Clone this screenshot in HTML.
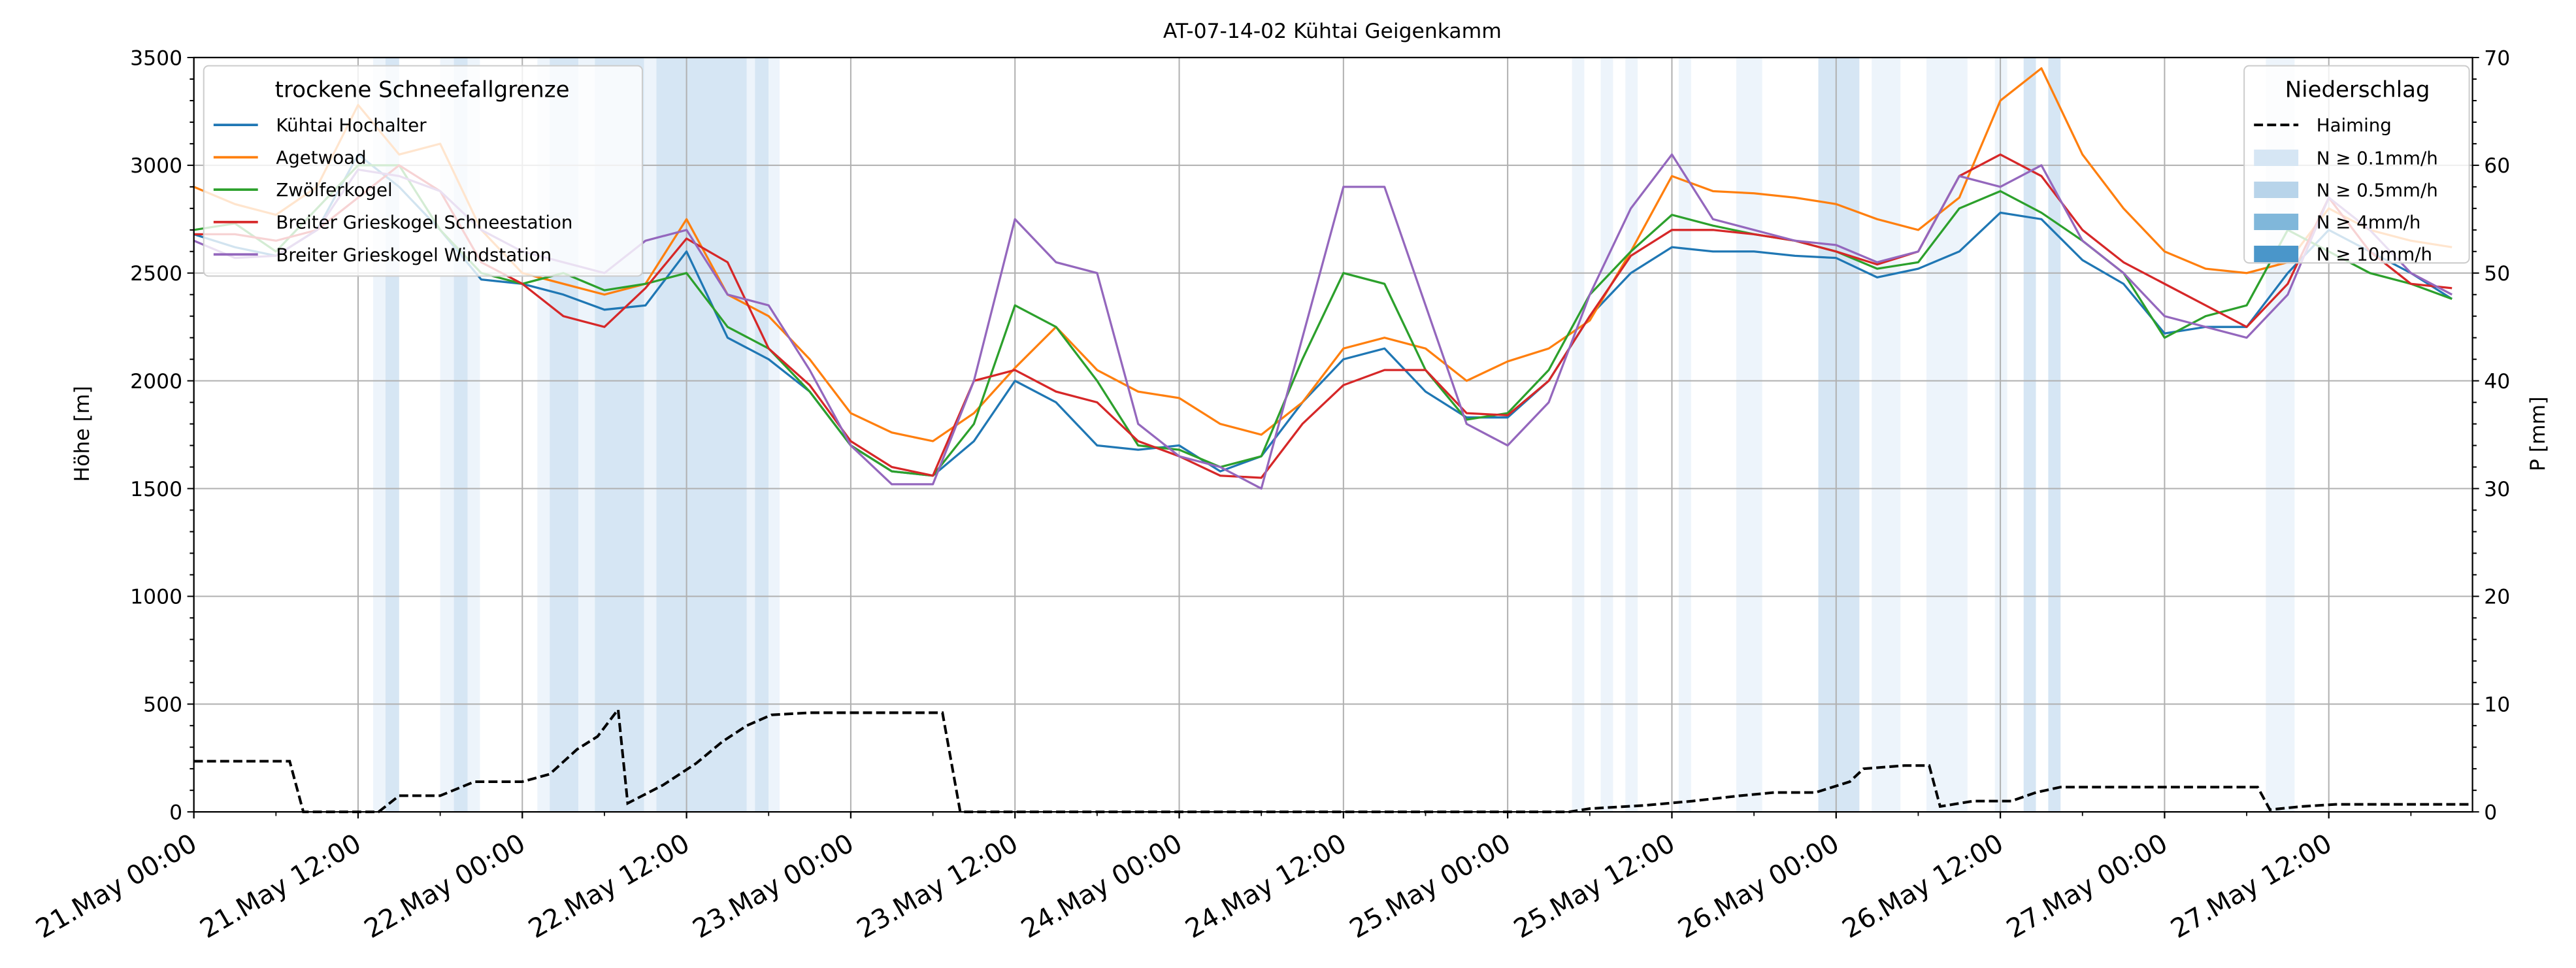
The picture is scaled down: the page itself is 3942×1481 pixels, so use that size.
<!DOCTYPE html>
<html><head><meta charset="utf-8"><style>
html,body{margin:0;padding:0;background:#fff}
svg{display:block}
text{font-family:"DejaVu Sans","Liberation Sans",sans-serif}
</style></head><body>
<svg id="chart" width="3942" height="1481" viewBox="0 0 1568 589" preserveAspectRatio="none" xmlns="http://www.w3.org/2000/svg">
<g id="bands"></g>
<g id="grid"></g>
<g id="series"></g>
<g id="axes"></g>
<g id="legends"></g>
</svg>
<script>
const hours = [];
for (let h = 0; h <= 165; h += 3) hours.push(h);
const hochalter = [2680,2620,2580,2700,3050,2900,2700,2470,2450,2400,2330,2350,2600,2200,2100,1950,1700,1580,1560,1720,2000,1900,1700,1680,1700,1580,1650,1900,2100,2150,1950,1830,1830,2000,2300,2500,2620,2600,2600,2580,2570,2480,2520,2600,2780,2750,2560,2450,2220,2250,2250,2500,2700,2600,2500,2380];
const agetwoad = [2900,2820,2770,2900,3280,3050,3100,2700,2500,2450,2400,2450,2750,2400,2300,2100,1850,1760,1720,1850,2060,2250,2050,1950,1920,1800,1750,1900,2150,2200,2150,2000,2090,2150,2280,2600,2950,2880,2870,2850,2820,2750,2700,2850,3300,3450,3050,2800,2600,2520,2500,2550,2800,2700,2650,2620];
const zwoelfer = [2700,2730,2600,2800,3000,3000,2700,2500,2450,2500,2420,2450,2500,2250,2150,1950,1700,1580,1560,1800,2350,2250,2000,1700,1680,1600,1650,2100,2500,2450,2050,1820,1850,2050,2400,2600,2770,2720,2680,2650,2600,2520,2550,2800,2880,2780,2650,2500,2200,2300,2350,2700,2600,2500,2450,2380];
const schneestation = [2680,2680,2650,2700,2850,3000,2880,2550,2450,2300,2250,2430,2660,2550,2150,1980,1720,1600,1560,2000,2050,1950,1900,1720,1650,1560,1550,1800,1980,2050,2050,1850,1840,2000,2300,2580,2700,2700,2680,2650,2600,2540,2600,2950,3050,2950,2700,2550,2450,2350,2250,2450,2850,2600,2450,2430];
const windstation = [2650,2570,2580,2700,2980,2950,2880,2700,2600,2550,2500,2650,2700,2400,2350,2050,1700,1520,1520,2000,2750,2550,2500,1800,1650,1600,1500,2200,2900,2900,2350,1800,1700,1900,2400,2800,3050,2750,2700,2650,2630,2550,2600,2950,2900,3000,2650,2500,2300,2250,2200,2400,2850,2700,2500,2400];
const precipHours = [0,7,8,13.5,15,18,20.5,24,26,28,29.5,31,31.7,34.3,36.7,38.6,40.4,42.2,45,54.7,56,100.5,102,106,109.5,113,115.5,118.5,121,122,125,126.8,127.6,130,132.8,134.6,136.4,150.8,151.7,154,156.5,166.5];
const precipValues = [4.7,4.7,0,0,1.5,1.5,2.8,2.8,3.5,5.8,7,9.5,0.8,2.5,4.5,6.5,8,9,9.2,9.2,0,0,0.3,0.6,1,1.5,1.8,1.8,2.8,4,4.3,4.3,0.5,1,1,1.8,2.3,2.3,0.2,0.5,0.7,0.7];
const bandStart = [13.1,14.0,18.0,19.0,20.0,25.1,26.0,28.1,29.3,32.9,33.8,40.4,41.0,42.0,100.7,102.8,104.6,108.5,112.7,118.7,122.6,126.6,131.6,133.7,135.5,151.4];
const bandEnd = [14.0,15.0,19.0,20.0,20.9,26.0,28.1,29.3,32.9,33.8,40.4,41.0,42.0,42.8,101.6,103.7,105.5,109.4,114.6,121.7,124.7,129.6,132.5,134.6,136.4,153.5];
const bandLevel = [0,1,0,1,0,0,1,0,1,0,1,0,1,0,0,0,0,0,0,1,0,0,0,1,1,0];
const xTickLabels = ["21.May 00:00","21.May 12:00","22.May 00:00","22.May 12:00","23.May 00:00","23.May 12:00","24.May 00:00","24.May 12:00","25.May 00:00","25.May 12:00","26.May 00:00","26.May 12:00","27.May 00:00","27.May 12:00"];
const yTicks = [0,500,1000,1500,2000,2500,3000,3500];
const pTicks = [0,10,20,30,40,50,60,70];

const L=118,R=1505,T=35,B=494,HMAX=166.5;
const X=h=>L+(R-L)*h/HMAX;
const Y=v=>B-(B-T)*v/3500;
const YP=v=>B-(B-T)*v/70;
const NS="http://www.w3.org/2000/svg";
function mk(tag,attrs,parent,txt){const e=document.createElementNS(NS,tag);for(const k in attrs)e.setAttribute(k,attrs[k]);if(txt!==undefined)e.textContent=txt;parent.appendChild(e);return e;}
const gB=document.getElementById('bands'),gG=document.getElementById('grid'),gS=document.getElementById('series'),gA=document.getElementById('axes'),gL=document.getElementById('legends');
const bandCol=["#edf4fb","#d6e6f4"];
const legCol=["#d6e6f4","#b8d4ea","#80b7da","#4a96ca"];
bandStart.forEach((s,i)=>{
  const r=mk('rect',{x:X(s),y:T,width:X(bandEnd[i])-X(s),height:B-T,fill:bandCol[bandLevel[i]]},gB);
  
  
});
xTickLabels.forEach((t,i)=>{const x=X(i*12);const l=mk('line',{x1:x,x2:x,y1:T,y2:B,stroke:"#b0b0b0","stroke-width":0.8},gG);
  
  });
yTicks.forEach(v=>{const y=Y(v);const l=mk('line',{x1:L,x2:R,y1:y,y2:y,stroke:"#b0b0b0","stroke-width":0.8},gG);
  
  });
const series=[[hochalter,"#1f77b4","Kühtai Hochalter"],[agetwoad,"#ff7f0e","Agetwoad"],[zwoelfer,"#2ca02c","Zwölferkogel"],[schneestation,"#d62728","Breiter Grieskogel Schneestation"],[windstation,"#9467bd","Breiter Grieskogel Windstation"]];
series.forEach(([d,c,n])=>{
  const pts=d.map((v,i)=>X(hours[i])+","+Y(v)).join(" ");
  const p=mk('polyline',{points:pts,fill:"none",stroke:c,"stroke-width":1.3,"stroke-linejoin":"round"},gS);
  
  
});
const pp=mk('polyline',{points:precipHours.map((h,i)=>X(h)+","+YP(precipValues[i])).join(" "),fill:"none",stroke:"#000","stroke-width":1.6,"stroke-dasharray":"5.5,2.5"},gS);


const fr=mk('rect',{x:L,y:T,width:R-L,height:B-T,fill:"none",stroke:"#000","stroke-width":0.9},gA);


xTickLabels.forEach((t,i)=>{const x=X(i*12);
  mk('line',{x1:x,x2:x,y1:B,y2:B+4,stroke:"#000","stroke-width":0.9},gA);
  const tx=mk('text',{x:0,y:12,"font-size":16,"text-anchor":"end",transform:`translate(${x-3} ${B+12}) rotate(-30)`},gA,t);
  
  });
for(let h=6;h<HMAX;h+=12){const x=X(h);mk('line',{x1:x,x2:x,y1:B,y2:B+2.5,stroke:"#000","stroke-width":0.7},gA);}
for(let v=0;v<=3500;v+=100){const y=Y(v);mk('line',{x1:L-(v%500?2.5:4),x2:L,y1:y,y2:y,stroke:"#000","stroke-width":0.8},gA);}
for(let v=0;v<=70;v+=2){const y=YP(v);mk('line',{x1:R,x2:R+(v%10?2.5:4),y1:y,y2:y,stroke:"#000","stroke-width":0.8},gA);}
yTicks.forEach(v=>{const t=mk('text',{x:L-7,y:Y(v)+4.5,"font-size":12.5,"text-anchor":"end"},gA,String(v));
  
  });
pTicks.forEach(v=>{const t=mk('text',{x:R+7,y:YP(v)+4.5,"font-size":12.5},gA,String(v));
  
  });
let t;
t=mk('text',{x:811,y:23,"font-size":12.5,"text-anchor":"middle"},gA,"AT-07-14-02 Kühtai Geigenkamm");


t=mk('text',{x:54,y:264,"font-size":12.5,"text-anchor":"middle",transform:"rotate(-90 54 264)"},gA,"Höhe [m]");


t=mk('text',{x:1549,y:264,"font-size":12.5,"text-anchor":"middle",transform:"rotate(-90 1549 264)"},gA,"P [mm]");


let bx=mk('rect',{x:124,y:40,width:267,height:128,rx:3,fill:"#fff","fill-opacity":0.8,stroke:"#ccc","stroke-width":0.8},gL);


t=mk('text',{x:257,y:59,"font-size":13.5,"text-anchor":"middle"},gL,"trockene Schneefallgrenze");


series.forEach(([d,c,n],i)=>{const y=76+i*19.7;
  mk('line',{x1:130,x2:157,y1:y,y2:y,stroke:c,"stroke-width":1.5},gL);
  const e=mk('text',{x:168,y:y+4,"font-size":11},gL,n);
  
  });
bx=mk('rect',{x:1366,y:40,width:137,height:120,rx:3,fill:"#fff","fill-opacity":0.8,stroke:"#ccc","stroke-width":0.8},gL);


t=mk('text',{x:1435,y:59,"font-size":13.5,"text-anchor":"middle"},gL,"Niederschlag");


mk('line',{x1:1372,x2:1399,y1:76,y2:76,stroke:"#000","stroke-width":1.6,"stroke-dasharray":"5.5,2.5"},gL);
t=mk('text',{x:1410,y:80,"font-size":11},gL,"Haiming");


["N ≥ 0.1mm/h","N ≥ 0.5mm/h","N ≥ 4mm/h","N ≥ 10mm/h"].forEach((s,i)=>{const y=96+i*19.5;
  mk('rect',{x:1372,y:y-5,width:27,height:10,fill:legCol[i]},gL);
  const e=mk('text',{x:1410,y:y+4,"font-size":11},gL,s);
  
  });
</script>
</body></html>
